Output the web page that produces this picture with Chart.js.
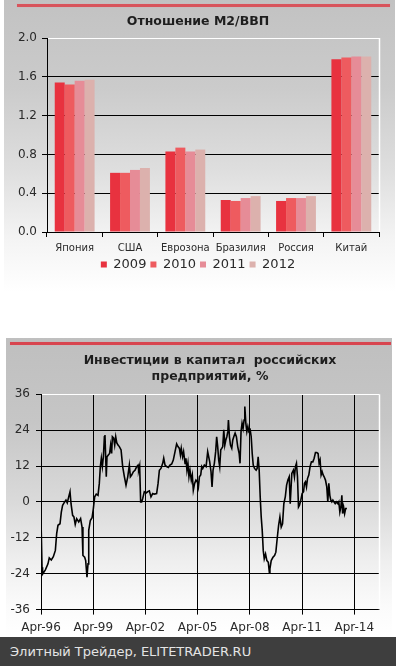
<!DOCTYPE html>
<html>
<head>
<meta charset="utf-8">
<script src="https://cdn.jsdelivr.net/npm/chart.js@4.4.1/dist/chart.umd.min.js"></script>
<style>
  html, body { margin:0; padding:0; background:#fff; }
  body { width:396px; height:666px; overflow:hidden; position:relative; font-family:"DejaVu Sans", Verdana, sans-serif; }
  .abs { position:absolute; }
  #panel1 { left:4px; top:0; width:391px; height:292px;
    background:linear-gradient(to bottom, #c2c2c2 0%, #cbcbcb 30%, #dedede 58%, #f4f4f4 82%, #ffffff 100%); }
  #red1 { left:17px; top:4px; width:373px; height:3px; background:#d8545c; box-shadow:0 0 1px #e79aa0; }
  #panel2 { left:6px; top:338px; width:386px; height:299px;
    background:linear-gradient(to bottom, #bfbfbf 0%, #c6c6c6 28%, #dadada 55%, #efefef 75%, #fbfbfb 90%, #ffffff 100%); }
  #red2 { left:10px; top:342px; width:381px; height:3px; background:#d8454f; box-shadow:0 0 1px #e79aa0; }
  #footer { left:0; top:637px; width:396px; height:29px; background:#3e3e3e; color:#e4e4e4;
    font-family:"DejaVu Sans", Verdana, sans-serif; font-size:13px; line-height:29px; }
  #footer span { position:absolute; left:10px; top:0; }
</style>
</head>
<body>
<div id="panel1" class="abs"></div>
<div id="red1" class="abs"></div>
<canvas id="c1" class="abs" style="left:0;top:0" width="396" height="281"></canvas>
<div id="panel2" class="abs"></div>
<div id="red2" class="abs"></div>
<canvas id="c2" class="abs" style="left:0;top:338px" width="396" height="299"></canvas>
<div id="footer" class="abs"><span>Элитный Трейдер, ELITETRADER.RU</span></div>
<script>
// ---- Data: M2/GDP ----
const categories = ["Япония", "США", "Еврозона", "Бразилия", "Россия", "Китай"];
const years = ["2009", "2010", "2011", "2012"];
const m2gdp2009 = [1.54, 0.61, 0.83, 0.33, 0.32, 1.78];
const m2gdp2010 = [1.52, 0.61, 0.87, 0.32, 0.35, 1.80];
const m2gdp2011 = [1.56, 0.64, 0.83, 0.35, 0.35, 1.81];
const m2gdp2012 = [1.57, 0.66, 0.85, 0.37, 0.37, 1.81];
const barColors = ["#e8323f", "#ee5b5f", "#e68c97", "#dcb1ad"];

// ---- Data: investment (months since Apr-96, %) ----
const investMonths = [
  0,0.7,1.1,3.0,4.8,5.7,7.1,8.5,9.9,10.8,11.7,13.1,14.0,14.9,16.3,17.2,18.1,19.1,20.0,20.7,
  21.8,22.7,23.6,24.6,26.0,27.3,28.3,28.9,30.1,30.8,31.7,32.4,32.9,34.0,35.2,36.1,37.0,38.1,39.3,40.2,
  40.9,41.6,42.3,43.0,43.7,44.1,44.6,45.0,45.5,46.4,47.3,48.0,48.7,49.2,50.1,50.8,51.5,52.2,53.1,
  54.0,55.2,56.3,57.5,58.6,59.8,60.9,61.6,62.5,63.7,64.8,66.0,66.9,67.3,68.0,68.7,69.4,70.1,71.2,72.4,
  73.5,74.7,75.8,77.0,78.1,79.7,80.7,81.6,82.7,83.9,84.6,85.5,86.6,87.8,88.9,90.1,91.2,92.4,93.5,94.4,
  95.4,96.1,96.7,97.6,98.3,99.3,99.9,100.6,101.3,102.0,102.7,103.6,104.3,105.0,105.9,106.8,107.8,108.5,109.2,110.1,
  110.8,111.5,112.6,113.8,114.9,115.6,116.3,117.2,117.9,118.6,119.5,120.4,121.1,121.8,122.5,123.2,123.9,124.6,125.3,126.0,
  126.7,127.4,128.1,128.8,129.2,129.9,130.6,131.5,132.2,132.9,133.8,134.7,135.6,136.6,137.2,137.9,138.6,139.3,140.0,140.5,
  141.2,141.9,142.6,143.3,144.2,144.9,145.6,146.3,147.2,148.3,149.0,149.7,150.4,151.1,151.8,152.5,153.2,153.9,154.8,155.7,
  156.7,157.4,157.8,158.7,159.9,161.0,161.9,162.8,163.8,164.7,165.6,166.5,167.4,168.4,169.3,170.2,171.1,171.8,172.9,174.0,
  174.7,175.4,176.1,176.8,177.5,178.2,179.1,180.0,181.0,181.6,182.3,183.0,183.7,184.6,185.5,186.4,187.4,188.3,189.2,190.1,
  191.0,191.7,192.4,193.1,193.8,194.5,195.2,196.1,197.0,197.7,198.4,199.1,199.8,200.5,201.2,201.9,202.8,203.7,204.7,205.3,
  206.0,206.7,207.4,207.9,208.6,209.3,210.0,210.9
];
const investValues = [
  -5.6,-21.8,-24.1,-22.7,-20.7,-18.7,-19.4,-18.3,-16.2,-10.6,-7.8,-7.3,-3.4,-1.1,0,0.6,-0.3,1.7,3.4,-0.6,
  -4.5,-5.0,-7.5,-5.6,-6.7,-5.6,-8.4,-17.9,-18.5,-19.6,-25.2,-20.7,-9.5,-6.2,-5.3,-2.2,1.7,2.6,2.2,6.2,
  11.8,14.6,11.8,15.1,21.8,22.4,14.6,8.4,15.1,15.7,16.2,19.0,16.2,21.8,21.3,19.0,21.8,19.8,19.0,
  18.5,17.4,11.8,8.4,5.6,8.4,12.3,8.4,9.0,10.1,10.6,11.8,12.3,10.6,12.1,0,0,1.1,3.4,3.0,
  3.4,3.7,1.7,2.8,2.6,2.8,6.2,10.6,11.2,12.9,14.6,12.3,11.8,11.5,12.3,12.7,14.0,16.8,19.4,18.5,
  17.9,15.7,17.9,15.1,16.8,12.9,14.6,10.6,12.9,8.4,10.6,7.3,9.0,3.9,6.2,7.3,6.7,5.0,8.4,9.0,
  11.8,11.2,12.3,11.8,16.8,15.1,13.4,10.1,5.0,10.6,12.9,16.8,21.8,18.5,14.0,11.8,17.4,17.9,18.5,24.1,
  19.0,20.7,21.8,23.5,27.4,21.8,19.0,17.9,20.7,21.8,23.0,21.8,18.5,16.2,12.9,23.5,26.3,24.6,27.4,31.9,
  26.3,23.5,25.2,23.5,24.1,21.8,16.2,12.3,11.2,10.6,11.2,15.1,10.6,1.7,-5.0,-9.5,-16.2,-19.0,-17.4,-19.6,
  -20.2,-23.5,-22.4,-19.6,-18.5,-17.9,-16.8,-12.3,-7.8,-5.0,-8.4,-7.3,-0.6,1.7,5.6,7.3,8.4,-0.6,9.5,10.6,
  8.4,11.8,12.9,8.4,-1.7,-1.1,0.6,2.8,3.4,6.2,6.7,5.0,7.8,9.0,11.8,13.4,13.4,14.6,16.5,16.5,
  16.2,12.9,14.0,9.0,10.1,9.0,8.4,7.3,5.0,0,6.2,2.2,0.6,0,0.6,0,-0.6,0,-0.6,0,
  -3.4,-1.7,2.2,-3.9,-1.7,-3.9,-2.2,-2.2
];
const xTickLabels = ["Apr-96", "Apr-99", "Apr-02", "Apr-05", "Apr-08", "Apr-11", "Apr-14"];
const xTickStep = 36;
const xMax = 233;
const yTicksInvest = [-36, -24, -12, 0, 12, 24, 36];

const FONT = "'DejaVu Sans', Verdana, sans-serif";
Chart.defaults.font.family = FONT;
Chart.defaults.color = "#2a2a2a";

const whiteEdge = {
  id: "whiteEdge",
  afterDatasetsDraw(chart) {
    const a = chart.chartArea, ctx = chart.ctx;
    ctx.save();
    ctx.strokeStyle = "#ffffff";
    ctx.lineWidth = 1.5;
    ctx.beginPath();
    ctx.moveTo(Math.round(a.right) + 0.5, a.top);
    ctx.lineTo(Math.round(a.right) + 0.5, a.bottom);
    ctx.stroke();
    ctx.restore();
  }
};

// ---- Chart 1 ----
new Chart(document.getElementById("c1"), {
  type: "bar",
  data: {
    labels: categories,
    datasets: [m2gdp2009, m2gdp2010, m2gdp2011, m2gdp2012].map((d, i) => ({
      label: years[i], data: d, backgroundColor: barColors[i], borderWidth: 0,
      categoryPercentage: 0.72, barPercentage: 1.0
    }))
  },
  options: {
    responsive: false, animation: false, devicePixelRatio: 1,
    layout: { padding: { left: 0, right: 0, top: 0, bottom: 0 } },
    plugins: {
      title: { display: true, text: "Отношение М2/ВВП", color: "#1e1e1e",
        font: { size: 12.5, weight: "bold" }, padding: { top: 14, bottom: 9 } },
      legend: { position: "bottom",
        labels: { boxWidth: 6, boxHeight: 6, padding: 4, color: "#2a2a2a", font: { size: 13 } } },
      tooltip: { enabled: false }
    },
    scales: {
      x: {
        afterFit(s) { s.height = s.height - 5; },
        grid: { drawOnChartArea: false, drawTicks: true, tickLength: 5, color: "#000", offset: true },
        border: { color: "#000", width: 1 },
        ticks: { font: { size: 10 }, color: "#2a2a2a", padding: 5, maxRotation: 0, autoSkip: false }
      },
      y: {
        min: 0, max: 2,
        afterFit(s) { s.width = 47; },
        ticks: { stepSize: 0.4, font: { size: 12 }, color: "#2a2a2a", padding: 5,
          callback: v => Number(v).toFixed(1) },
        grid: { color: c => (c.tick && c.tick.value === 2 ? "#ffffff" : "#000000"),
          tickColor: "#000", tickLength: 5, lineWidth: 1 },
        border: { color: "#000", width: 1 }
      },
      yr: {
        position: "right", display: true,
        afterFit(s) { s.width = 17; },
        grid: { display: false }, border: { display: false }, ticks: { display: false }
      }
    }
  },
  plugins: [whiteEdge]
});

// ---- Chart 2 ----
new Chart(document.getElementById("c2"), {
  type: "line",
  data: {
    datasets: [{
      label: "Инвестиции",
      data: investMonths.map((m, i) => ({ x: m, y: investValues[i] })),
      borderColor: "#000", borderWidth: 1.6, pointRadius: 0, tension: 0, fill: false
    }]
  },
  options: {
    responsive: false, animation: false, devicePixelRatio: 1,
    layout: { padding: { left: 0, right: 0, top: 0, bottom: 0 } },
    plugins: {
      title: { display: true, fullSize: false,
        text: ["Инвестиции в капитал  российских", "предприятий, %"], color: "#1e1e1e",
        font: { size: 12.5, weight: "bold", lineHeight: 1.33 }, padding: { top: 14, bottom: 9 } },
      legend: { display: false },
      tooltip: { enabled: false }
    },
    scales: {
      x: {
        type: "linear", min: 0, max: xMax,
        afterFit(s) { s.height = s.height - 4; },
        ticks: { stepSize: xTickStep, includeBounds: false, autoSkip: false, maxRotation: 0,
          font: { size: 12 }, color: "#2a2a2a", padding: 6,
          callback: v => xTickLabels[Math.round(v / xTickStep)] || "" },
        grid: { color: "#000", tickColor: "#000", tickLength: 5, lineWidth: 1 },
        border: { color: "#000", width: 1 }
      },
      y: {
        min: yTicksInvest[0], max: yTicksInvest[yTicksInvest.length - 1],
        afterFit(s) { s.width = 41; },
        ticks: { stepSize: 12, font: { size: 12 }, color: "#2a2a2a", padding: 6 },
        grid: { color: c => (c.tick && c.tick.value === 36 ? "#ffffff" : "#000000"),
          tickColor: "#000", tickLength: 5, lineWidth: 1 },
        border: { color: "#000", width: 1 }
      },
      yr: {
        position: "right", display: true,
        afterFit(s) { s.width = 17; },
        grid: { display: false }, border: { display: false }, ticks: { display: false }
      }
    }
  },
  plugins: [whiteEdge]
});
</script>
</body>
</html>
